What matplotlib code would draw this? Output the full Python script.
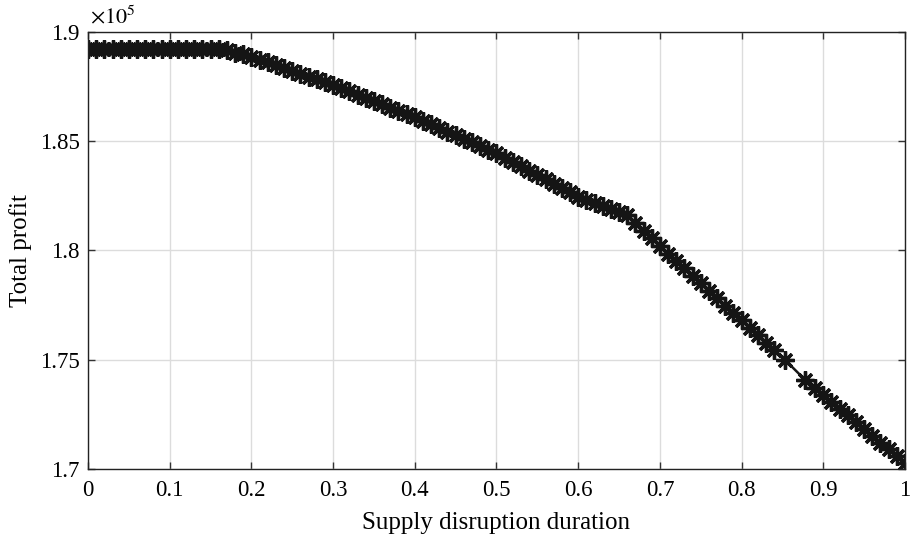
import matplotlib
matplotlib.use("Agg")
import matplotlib.pyplot as plt

# supply disruption duration
duration = [0.00, 0.01, 0.02, 0.03, 0.04, 0.05, 0.06, 0.07, 0.08, 0.09,
            0.10, 0.11, 0.12, 0.13, 0.14, 0.15, 0.16, 0.17, 0.18, 0.19,
            0.20, 0.21, 0.22, 0.23, 0.24, 0.25, 0.26, 0.27, 0.28, 0.29,
            0.30, 0.31, 0.32, 0.33, 0.34, 0.35, 0.36, 0.37, 0.38, 0.39,
            0.40, 0.41, 0.42, 0.43, 0.44, 0.45, 0.46, 0.47, 0.48, 0.49,
            0.50, 0.51, 0.52, 0.53, 0.54, 0.55, 0.56, 0.57, 0.58, 0.59,
            0.60, 0.61, 0.62, 0.63, 0.64, 0.65, 0.66, 0.67, 0.68, 0.69,
            0.70, 0.71, 0.72, 0.73, 0.74, 0.75, 0.76, 0.77, 0.78, 0.79,
            0.80, 0.81, 0.82, 0.83, 0.84, 0.853, 0.878, 0.89,
            0.90, 0.91, 0.92, 0.93, 0.94, 0.95, 0.96, 0.97, 0.98, 0.99,
            1.00]

# total profit, in units of 1e5
profit = [1.8922, 1.8922, 1.8921, 1.8922, 1.8922, 1.8921, 1.8922, 1.8922, 1.8922, 1.8921,
          1.8922, 1.8922, 1.8921, 1.8922, 1.8922, 1.8922, 1.8921, 1.8918, 1.8905, 1.8897,
          1.8887, 1.8874, 1.8861, 1.8848, 1.8835, 1.8822, 1.8809, 1.8796, 1.8783, 1.8770,
          1.8757, 1.8742, 1.8728, 1.8713, 1.8698, 1.8684, 1.8669, 1.8654, 1.8640, 1.8625,
          1.8610, 1.8594, 1.8577, 1.8561, 1.8544, 1.8528, 1.8511, 1.8495, 1.8478, 1.8462,
          1.8445, 1.8425, 1.8405, 1.8385, 1.8365, 1.8345, 1.8326, 1.8306, 1.8286, 1.8266,
          1.8246, 1.8232, 1.8218, 1.8204, 1.8190, 1.8176, 1.8162, 1.8127, 1.8091, 1.8056,
          1.8020, 1.7986, 1.7952, 1.7918, 1.7884, 1.7850, 1.7816, 1.7782, 1.7748, 1.7714,
          1.7680, 1.7646, 1.7612, 1.7578, 1.7544, 1.7500, 1.7407, 1.7370,
          1.7338, 1.7307, 1.7276, 1.7245, 1.7214, 1.7183, 1.7152, 1.7121, 1.7090, 1.7059,
          1.7027]

x_ticks = [0, 0.1, 0.2, 0.3, 0.4, 0.5, 0.6, 0.7, 0.8, 0.9, 1]
y_ticks = [1.7, 1.75, 1.8, 1.85, 1.9]

plt.rcParams["font.family"] = ["Liberation Serif", "DejaVu Serif"]
plt.rcParams["mathtext.fontset"] = "stix"

fig = plt.figure(figsize=(9.13, 5.41), dpi=100)
ax = fig.add_axes([0.0964, 0.1331, 0.8948, 0.8078])

ax.plot(duration, profit, color="#151515", linewidth=1.8,
        marker=(8, 2, 0), markersize=13, markeredgewidth=2.4)

ax.set_xlim(0, 1)
ax.set_ylim(1.7, 1.9)
ax.set_xticks(x_ticks)
ax.set_xticklabels([f"{t:g}" for t in x_ticks])
ax.set_yticks(y_ticks)
ax.set_yticklabels([f"{t:g}" for t in y_ticks])

ax.grid(True, color="#dcdcdc", linewidth=1.0)
ax.set_axisbelow(True)
ax.tick_params(direction="in", top=True, right=True, length=5,
               width=1.0, labelsize=16.5, color="#333333")
ax.tick_params(axis="x", pad=8)
ax.tick_params(axis="y", pad=6)
for sp in ax.spines.values():
    sp.set_linewidth(1.0)
    sp.set_color("#222222")

ax.set_xlabel("Supply disruption duration", fontsize=18)
ax.set_ylabel("Total profit", fontsize=18)
ax.xaxis.set_label_coords(0.5, -0.098)
ax.yaxis.set_label_coords(-0.069, 0.5)
ax.text(0.002, 1.008, r"$\times10^{5}$", transform=ax.transAxes,
        fontsize=16, ha="left", va="bottom")

fig.savefig("out.png", dpi=100)
